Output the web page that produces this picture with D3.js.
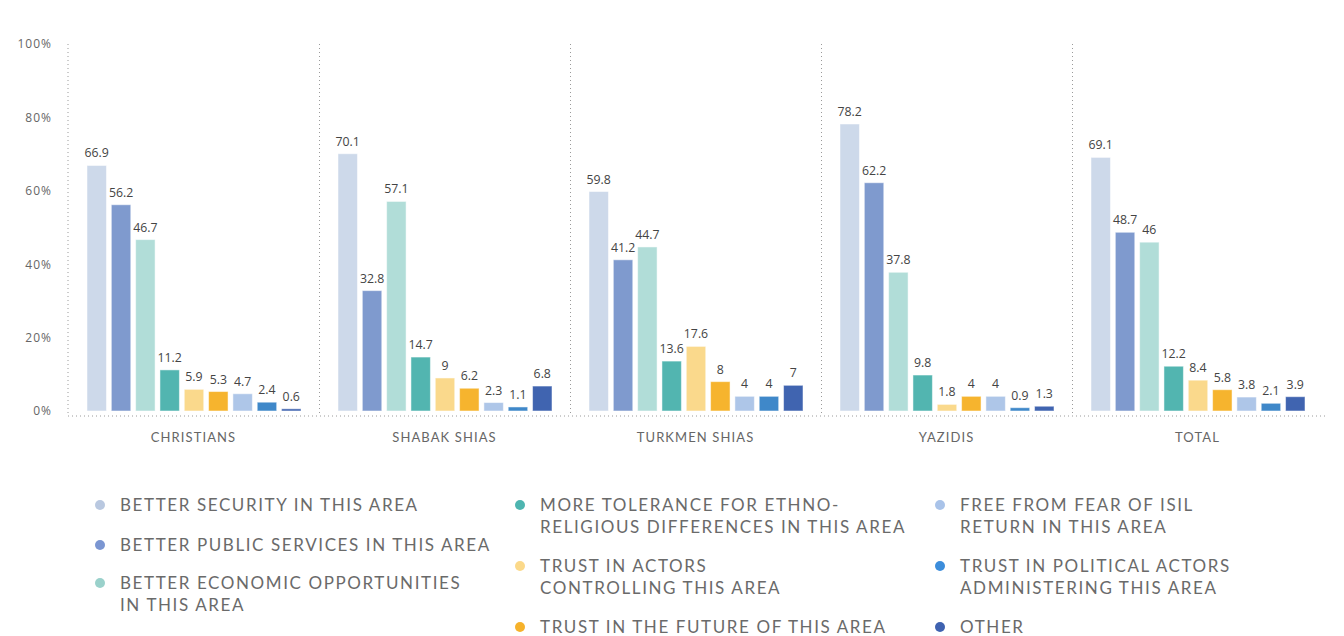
<!DOCTYPE html>
<html>
<head>
<meta charset="utf-8">
<script src="https://cdn.jsdelivr.net/npm/d3@7"></script>
<style>
  html, body { margin: 0; padding: 0; background: #fff; }
  svg { display: block; }
  .tick-label { font-family: "Open Sans", sans-serif; font-size: 12px; fill: #666; letter-spacing: 1px; }
  .value-label { font-family: "Open Sans", sans-serif; font-size: 12.3px; fill: #444; }
  .cat-label { font-family: Lato, sans-serif; font-size: 13px; fill: #666; letter-spacing: 1.1px; }
  .legend-label { font-family: Lato, sans-serif; font-size: 17px; fill: #6a6a6a; letter-spacing: 1.6px; }
</style>
</head>
<body>
<svg id="chart" width="1344" height="636"></svg>
<script>
// Communities surveyed
const categories = ["CHRISTIANS", "SHABAK SHIAS", "TURKMEN SHIAS", "YAZIDIS", "TOTAL"];

// Reasons given (series), in drawing order
const seriesNames = [
  "BETTER SECURITY IN THIS AREA",
  "BETTER PUBLIC SERVICES IN THIS AREA",
  "BETTER ECONOMIC OPPORTUNITIES IN THIS AREA",
  "MORE TOLERANCE FOR ETHNO-RELIGIOUS DIFFERENCES IN THIS AREA",
  "TRUST IN ACTORS CONTROLLING THIS AREA",
  "TRUST IN THE FUTURE OF THIS AREA",
  "FREE FROM FEAR OF ISIL RETURN IN THIS AREA",
  "TRUST IN POLITICAL ACTORS ADMINISTERING THIS AREA",
  "OTHER"
];

// Percent values per community, one entry per series
const christians   = [66.9, 56.2, 46.7, 11.2, 5.9, 5.3, 4.7, 2.4, 0.6];
const shabakShias  = [70.1, 32.8, 57.1, 14.7, 9, 6.2, 2.3, 1.1, 6.8];
const turkmenShias = [59.8, 41.2, 44.7, 13.6, 17.6, 8, 4, 4, 7];
const yazidis      = [78.2, 62.2, 37.8, 9.8, 1.8, 4, 4, 0.9, 1.3];
const total        = [69.1, 48.7, 46, 12.2, 8.4, 5.8, 3.8, 2.1, 3.9];

const yTicks = [0, 20, 40, 60, 80, 100];

// Legend text broken into lines, in three columns
const legendLines = [
  ["BETTER SECURITY IN THIS AREA"],
  ["BETTER PUBLIC SERVICES IN THIS AREA"],
  ["BETTER ECONOMIC OPPORTUNITIES", "IN THIS AREA"],
  ["MORE TOLERANCE FOR ETHNO-", "RELIGIOUS DIFFERENCES IN THIS AREA"],
  ["TRUST IN ACTORS", "CONTROLLING THIS AREA"],
  ["TRUST IN THE FUTURE OF THIS AREA"],
  ["FREE FROM FEAR OF ISIL", "RETURN IN THIS AREA"],
  ["TRUST IN POLITICAL ACTORS", "ADMINISTERING THIS AREA"],
  ["OTHER"]
];

const colors = ["#cdd9ea", "#7f9ace", "#b1ddd8", "#52b5b0", "#fad98c", "#f6b42e", "#aec6e8", "#3f88c9", "#4064b0"];
const dotColors = ["#b9c8e0", "#7b96d2", "#9ad1cb", "#4eb5b0", "#fbd98a", "#f6b22b", "#a9c3e9", "#3c8ddb", "#3f62b0"];

const valuesByCategory = [christians, shabakShias, turkmenShias, yazidis, total];
const rows = categories.map((c, i) => ({ category: c, values: valuesByCategory[i] }));

const svg = d3.select("#chart");
const plot = { left: 68, right: 1323, top: 44, bottom: 411 };

const x0 = d3.scaleBand().domain(categories).range([plot.left, plot.right]).padding(0);
const x1 = d3.scaleBand().domain(d3.range(seriesNames.length))
  .range([19, x0.bandwidth() - 18]).paddingInner(0.2).paddingOuter(0);
const y = d3.scaleLinear().domain([0, 100]).range([plot.bottom, plot.top]);

const dotted = { stroke: "#9a9a9a", dash: "1,3" };

// Y axis (dotted line, labels only)
const yAxis = d3.axisLeft(y).tickValues(yTicks).tickFormat(d => d + "%").tickSize(0).tickPadding(16);
const yg = svg.append("g").attr("transform", `translate(${plot.left},0)`).call(yAxis);
yg.select(".domain").remove();
yg.selectAll("text").attr("class", "tick-label").attr("font-family", null).attr("font-size", null);

svg.append("line")
  .attr("x1", plot.left).attr("x2", plot.left)
  .attr("y1", plot.top).attr("y2", plot.bottom + 5)
  .attr("stroke", dotted.stroke).attr("stroke-dasharray", dotted.dash);

// Group separators
svg.selectAll("line.sep").data(categories.slice(1)).enter().append("line")
  .attr("class", "sep")
  .attr("x1", d => x0(d) + 0.5).attr("x2", d => x0(d) + 0.5)
  .attr("y1", plot.top).attr("y2", plot.bottom + 5)
  .attr("stroke", dotted.stroke).attr("stroke-dasharray", dotted.dash);

// Baseline
svg.append("line")
  .attr("x1", plot.left).attr("x2", plot.right + 2)
  .attr("y1", plot.bottom + 5).attr("y2", plot.bottom + 5)
  .attr("stroke", dotted.stroke).attr("stroke-dasharray", dotted.dash);

// Bars
const groups = svg.selectAll("g.group").data(rows).enter().append("g")
  .attr("class", "group")
  .attr("transform", d => `translate(${x0(d.category)},0)`);

groups.selectAll("rect").data(d => d.values.map((v, i) => ({ v, i }))).enter().append("rect")
  .attr("x", d => x1(d.i))
  .attr("width", x1.bandwidth())
  .attr("y", d => y(d.v))
  .attr("height", d => y(0) - y(d.v))
  .attr("fill", d => colors[d.i])
  .attr("stroke", "#ffffff").attr("stroke-opacity", 0.5).attr("stroke-width", 1);

groups.selectAll("text.value-label").data(d => d.values.map((v, i) => ({ v, i }))).enter().append("text")
  .attr("class", "value-label")
  .attr("x", d => x1(d.i) + x1.bandwidth() / 2)
  .attr("y", d => y(d.v) - 8)
  .attr("text-anchor", "middle")
  .text(d => d.v);

// Category labels
svg.selectAll("text.cat-label").data(categories).enter().append("text")
  .attr("class", "cat-label")
  .attr("x", d => x0(d) + x0.bandwidth() / 2)
  .attr("y", 442)
  .attr("text-anchor", "middle")
  .text(d => d);

// Legend: three columns
const legendCols = [
  { x: 100, items: [0, 1, 2], ys: [505, 545, 583] },
  { x: 520, items: [3, 4, 5], ys: [505, 566, 627] },
  { x: 940, items: [6, 7, 8], ys: [505, 566, 627] }
];
const lineH = 22;
legendCols.forEach(col => {
  col.items.forEach((idx, k) => {
    const g = svg.append("g").attr("transform", `translate(${col.x},${col.ys[k]})`);
    g.append("circle").attr("cx", 0).attr("cy", 0).attr("r", 5).attr("fill", dotColors[idx]);
    const t = g.append("text").attr("class", "legend-label").attr("x", 20).attr("y", 6);
    legendLines[idx].forEach((ln, j) => {
      t.append("tspan").attr("x", 20).attr("dy", j === 0 ? 0 : lineH).text(ln);
    });
  });
});
</script>
</body>
</html>
